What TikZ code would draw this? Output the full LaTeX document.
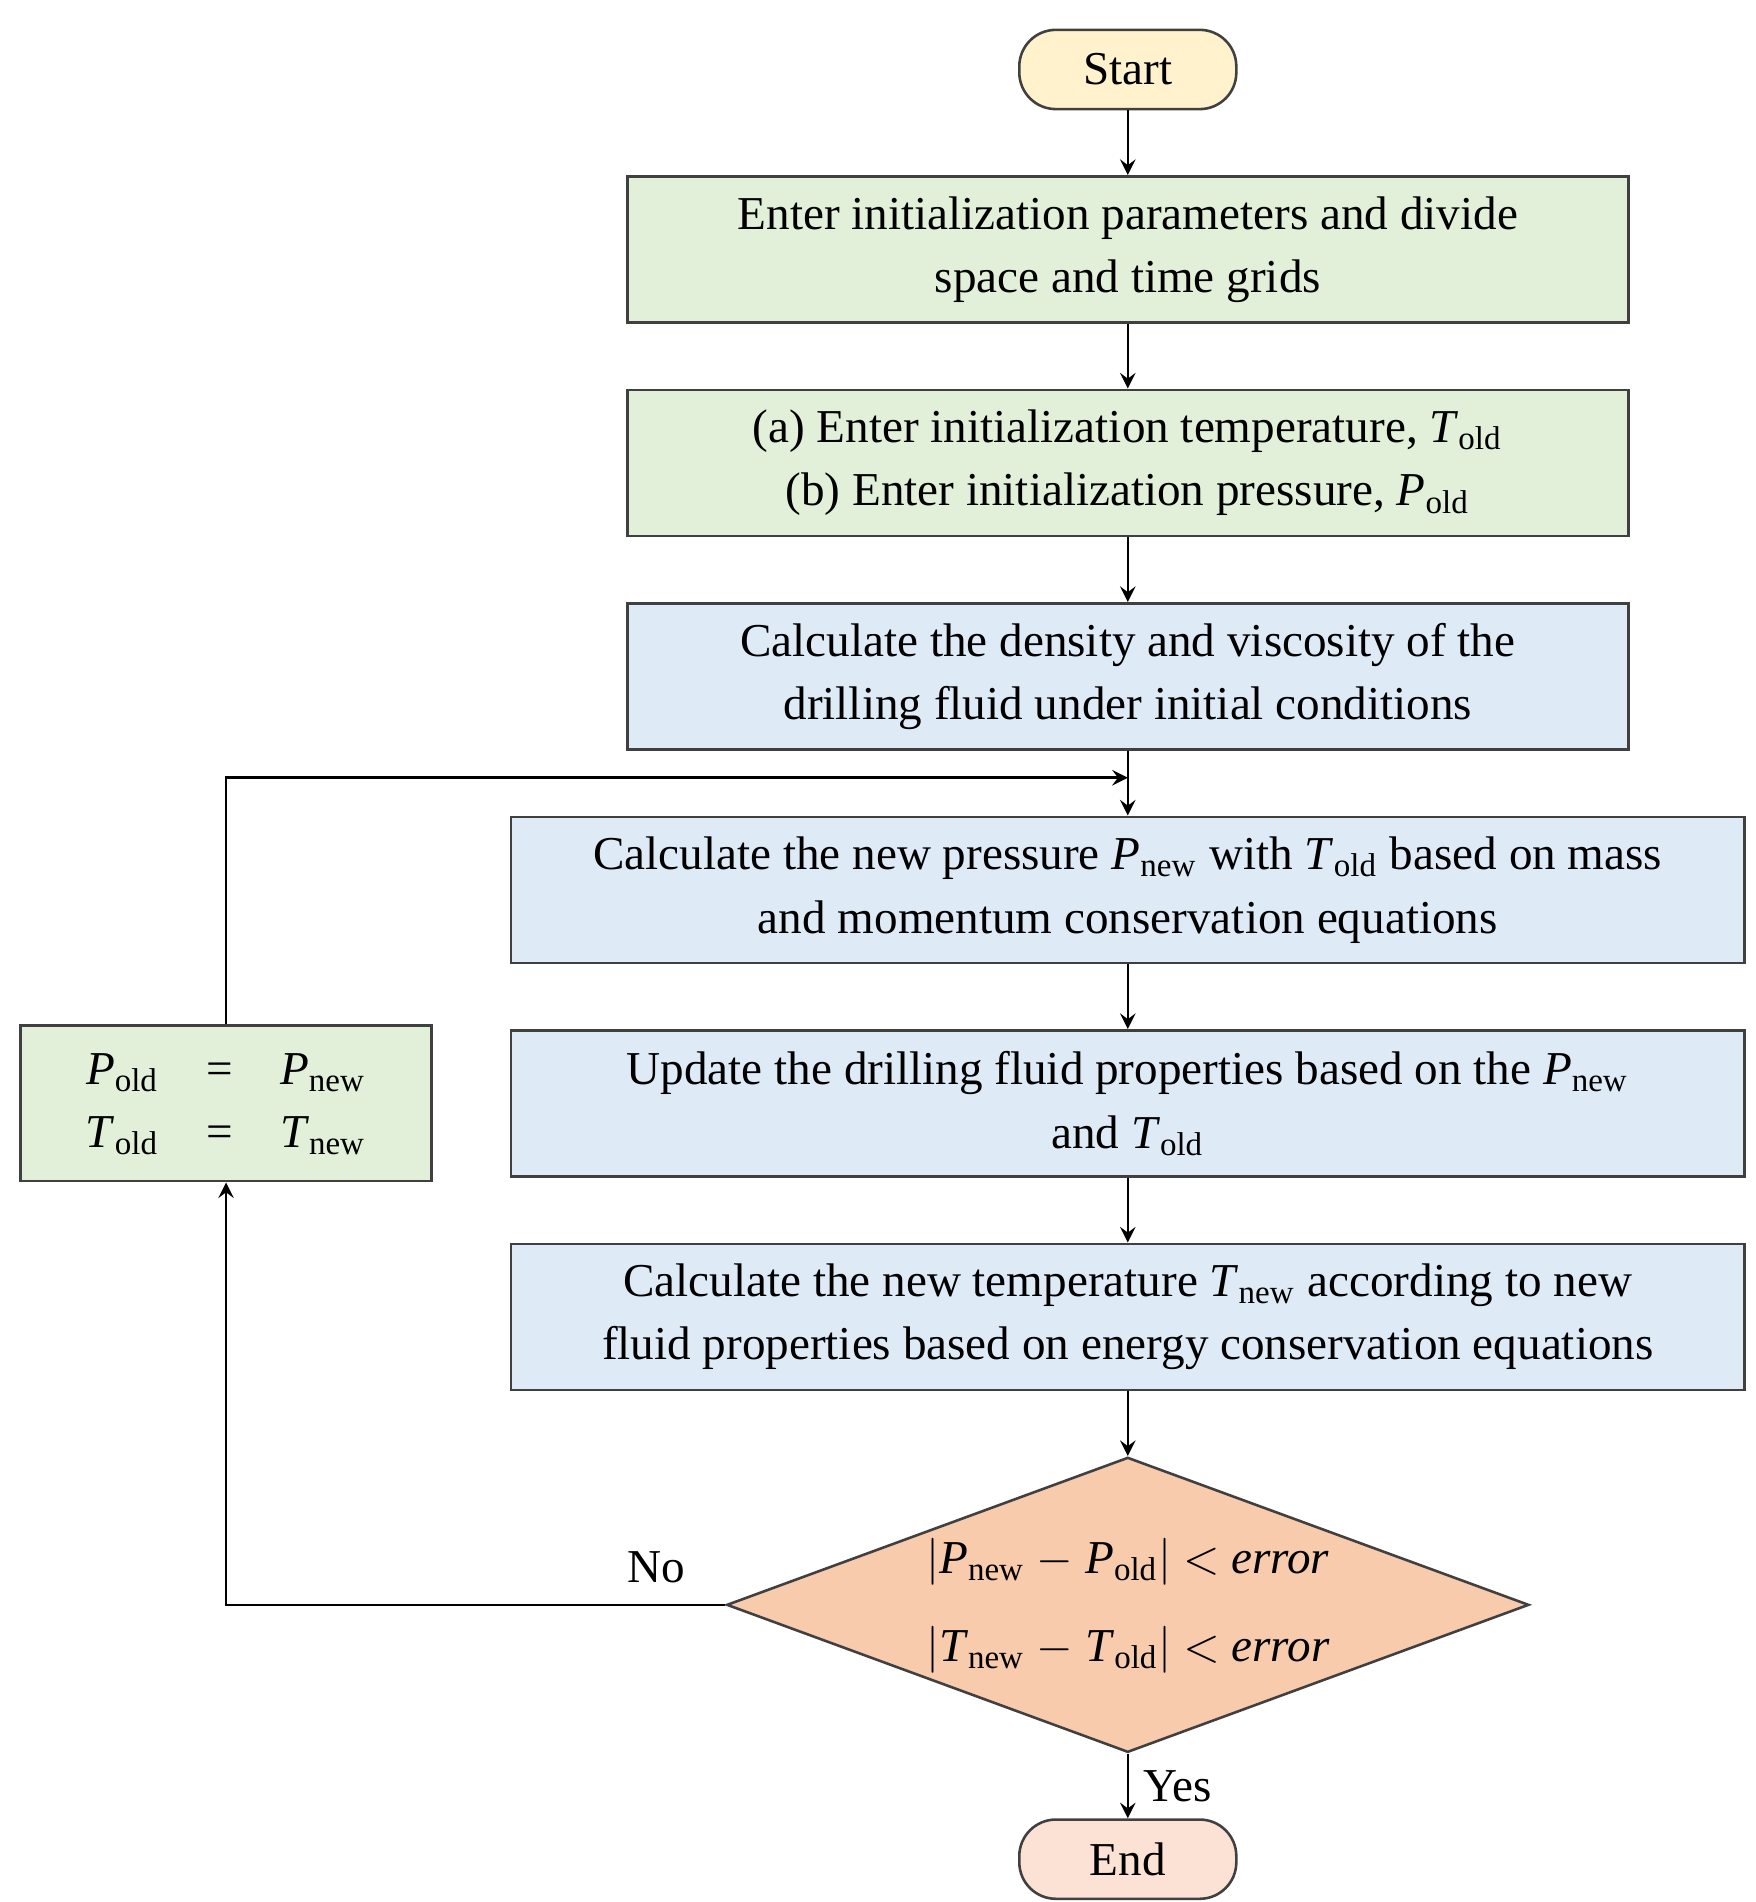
\documentclass[tikz,border=0pt]{standalone}
\usepackage{fontspec}
\setmainfont{Liberation Serif}
\usetikzlibrary{positioning,shapes.geometric}
\definecolor{startfill}{HTML}{FFF2CC}
\definecolor{endfill}{HTML}{FBE2D5}
\definecolor{greenfill}{HTML}{E2EFD9}
\definecolor{bluefill}{HTML}{DEEBF7}
\definecolor{orangefill}{HTML}{F8CBAD}
\newcommand{\qty}[2]{\textit{#1}\textsubscript{#2}}
\begin{document}
\begin{tikzpicture}[
  font=\fontsize{11}{14.8}\selectfont,
  node distance=0.53cm,
  terminal/.style = {
    draw=black!75,
    shape=rectangle,
    rounded corners=0.3cm,
    minimum width=1.78cm,
    minimum height=0.65cm
  },
  block/.style = {
    draw=black!75,
    shape=rectangle,
    minimum height=1.2cm,
    align=center
  },
  decision/.style = {
    draw=black!75,
    shape=diamond,
    fill=orangefill,
    shape aspect=2.72,
    minimum width=6.58cm,
    minimum height=2.42cm,
    inner sep=0pt,
    align=center
  },
  line width=0.6pt,
  >=stealth
]
  \useasboundingbox (0,0) rectangle (14.4,-15.6);
  \node (start)[terminal, fill=startfill] at (9.25,-0.57) {Start};
  \node (grid)[
    below=of start,
    block,
    fill=greenfill,
    minimum width=8.21cm
  ] {Enter initialization parameters and divide\\space and time grids};
  \node (init)[
    below=of grid,
    block,
    fill=greenfill,
    minimum width=8.21cm
  ] {(a) Enter initialization temperature, \qty{T}{old}\\(b) Enter initialization pressure, \qty{P}{old}\hspace{1.4em}};
  \node (dens)[
    below=of init,
    block,
    fill=bluefill,
    minimum width=8.21cm
  ] {Calculate the density and viscosity of the\\drilling fluid under initial conditions};
  \node (pres)[
    below=of dens,
    block,
    fill=bluefill,
    minimum width=10.12cm
  ] {Calculate the new pressure \qty{P}{new} with \qty{T}{old} based on mass\\and momentum conservation equations};
  \node (prop)[
    below=of pres,
    block,
    fill=bluefill,
    minimum width=10.12cm
  ] {Update the drilling fluid properties based on the \qty{P}{new}\\and \qty{T}{old}};
  \node (temp)[
    below=of prop,
    block,
    fill=bluefill,
    minimum width=10.12cm
  ] {Calculate the new temperature \qty{T}{new} according to new\\fluid properties based on energy conservation equations};
  \node (check)[
    below=of temp,
    decision
  ] {$\bigl|$\qty{P}{new} $-$ \qty{P}{old}$\bigr|$ $<$ \textit{error}\\[0.2cm]$\bigl|$\qty{T}{new} $-$ \qty{T}{old}$\bigr|$ $<$ \textit{error}};
  \node (finish)[below=of check, terminal, fill=endfill] {End};
  \node (update)[
    left=0.63cm of prop,
    block,
    fill=greenfill,
    minimum width=3.37cm
  ] {\begin{tabular}{@{}c@{\quad}c@{\quad}c@{}}
      \qty{P}{old} & = & \qty{P}{new}\\
      \qty{T}{old} & = & \qty{T}{new}
    \end{tabular}};
  \coordinate (join) at ([yshift=-0.22cm]dens.south);

  \draw[->] (start) -- (grid);
  \draw[->] (grid) -- (init);
  \draw[->] (init) -- (dens);
  \draw[->] (dens) -- (pres);
  \draw[->] (pres) -- (prop);
  \draw[->] (prop) -- (temp);
  \draw[->] (temp) -- (check);
  \draw[->] (check) -- (finish) node[right,midway] {Yes};
  \draw[->] (check.west) -| (update.south);
  \node[above left=0.05cm and 0.2cm of check.west] {No};
  \draw[->] (update.north) |- (join);
\end{tikzpicture}
\end{document}
